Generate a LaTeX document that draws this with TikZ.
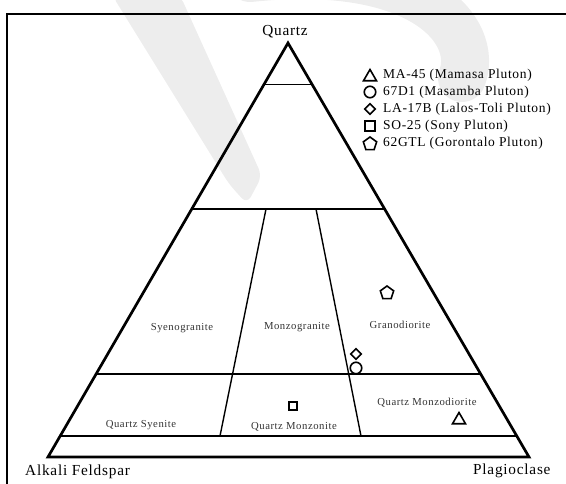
\documentclass[tikz,border=0pt]{standalone}
\usepackage{fontspec}
\setmainfont{Liberation Serif}[LetterSpace=5]
\usepackage{tikz}
\usetikzlibrary{shapes.geometric,calc}
\tikzset{
  rim/.style={line width=2.7pt, line join=miter},
  level/.style={line width=1.8pt},
  divide/.style={line width=1.4pt},
  field/.style={font=\fontsize{10.7}{12}\selectfont, text=black!80, inner sep=0pt},
  apexname/.style={font=\fontsize{15.3}{18}\selectfont, inner sep=0pt},
  legendtext/.style={font=\fontsize{13.5}{16}\selectfont, anchor=west, inner sep=0pt},
  sample/.style={draw, line width=1.6pt, inner sep=0pt},
  tri/.style={sample, regular polygon, regular polygon sides=3, minimum size=15pt},
  penta/.style={sample, regular polygon, regular polygon sides=5, minimum size=14pt},
  dia/.style={sample, diamond, minimum size=11pt},
  circ/.style={sample, circle, minimum size=11.5pt},
  sq/.style={sample, rectangle, minimum size=8.5pt},
  wmark/.style={fill=black!7, draw=none}
}

\begin{document}
\begin{tikzpicture}[x=1pt,y=-1pt]
    \useasboundingbox (0,0) rectangle (566,483);
    \clip (0,0) rectangle (566,483);
    % faint watermark in the background
    \fill[wmark, rounded corners=8pt] (112,-5) -- (180,-5) -- (262,176) -- (247,204) -- (229,184) -- cycle;
    \draw[draw=black!7, line width=48pt, line cap=round] (250,-22) .. controls (420,-40) and (480,30) .. (462,78);
    % frame
    \draw[line width=1.6pt] (7,490) -- (7,14) -- (575,14);
    % corners of the QAP triangle
    \coordinate (Q) at (288,43);
    \coordinate (A) at (48,457);
    \coordinate (P) at (529,457);
    \foreach \t in {0.1,0.4,0.8,0.95}
        \draw[level] ($(Q)!\t!(A)$) -- ($(Q)!\t!(P)$);
    \coordinate (d1top) at (266,209);
    \coordinate (d1bot) at (220,436);
    \coordinate (d2top) at (316,209);
    \coordinate (d2bot) at (361,436);
    \draw[divide] (d1top) -- (d1bot);
    \draw[divide] (d2top) -- (d2bot);
    \draw[rim] (Q) -- (A) -- (P) -- cycle;
    % corner names
    \node[apexname, anchor=base] (quartz) at (285,35) {Quartz};
    \node[apexname, anchor=base west] (alkali) at (25,475) {Alkali Feldspar};
    \node[apexname, anchor=base west] (plag) at (473,474) {Plagioclase};
    % fields
    \node[field] (syeno) at (182,328) {Syenogranite};
    \node[field] (monzo) at (297,327) {Monzogranite};
    \node[field] (grano) at (400,325) {Granodiorite};
    \node[field] (qsye) at (141,425) {Quartz Syenite};
    \node[field] (qmonz) at (294,427) {Quartz Monzonite};
    \node[field] (qmdio) at (427,403) {Quartz Monzodiorite};
    % samples
    \node[tri] (ma45) at (459,420) {};
    \node[circ] (d67) at (356,368) {};
    \node[dia] (la17) at (356,354) {};
    \node[sq] (so25) at (293,406) {};
    \node[penta] (gtl62) at (387,293) {};
    % legend
    \node[tri] (lg1) at (370,77) {};
    \node[circ] (lg2) at (370,92) {};
    \node[dia] (lg3) at (370,109) {};
    \node[sq, minimum size=10pt] (lg4) at (370,126) {};
    \node[penta] (lg5) at (370,144) {};
    \node[legendtext] (lt1) at (383,75) {MA-45 (Mamasa Pluton)};
    \node[legendtext] (lt2) at (383,92) {67D1 (Masamba Pluton)};
    \node[legendtext] (lt3) at (383,109) {LA-17B (Lalos-Toli Pluton)};
    \node[legendtext] (lt4) at (383,126) {SO-25 (Sony Pluton)};
    \node[legendtext] (lt5) at (383,143) {62GTL (Gorontalo Pluton)};
\end{tikzpicture}
\end{document}
